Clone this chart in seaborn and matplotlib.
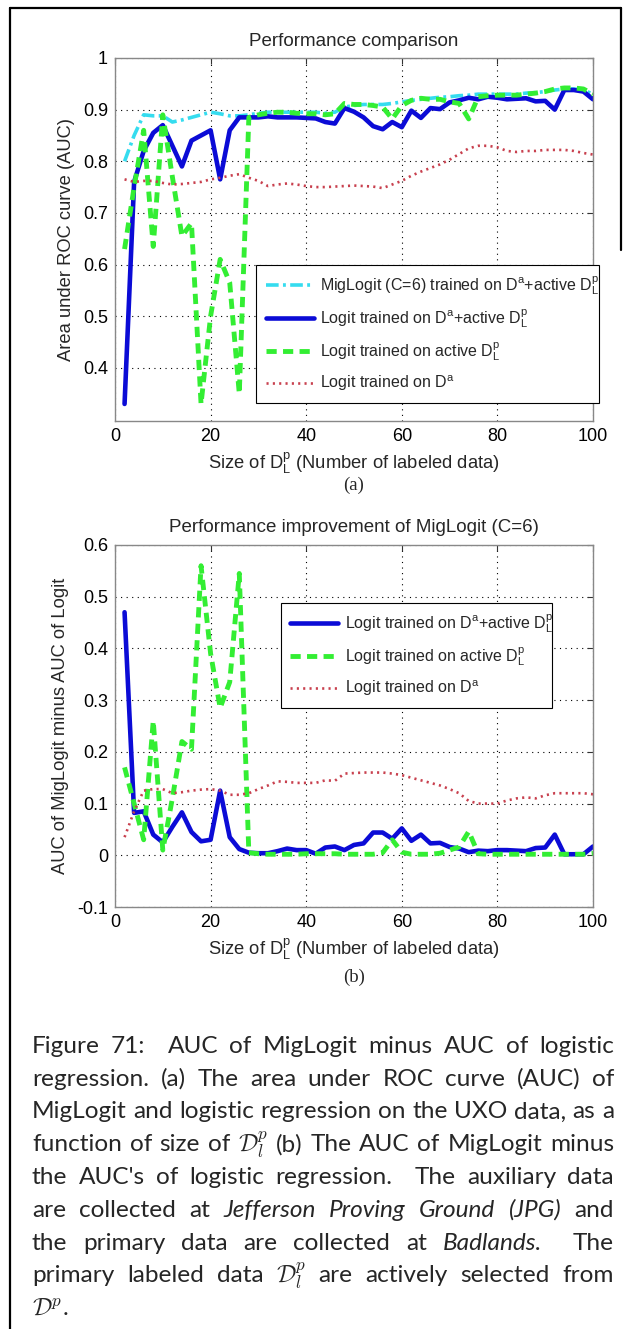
import matplotlib
matplotlib.use('Agg')
import matplotlib.pyplot as plt
import seaborn as sns
from matplotlib.ticker import FuncFormatter
from matplotlib.lines import Line2D

# x axis: size of labeled primary set
sizes = list(range(2, 101, 2))

# (a) AUC curves
auc_mig = [0.80, 0.85, 0.89, 0.888, 0.888, 0.876, 0.88, 0.885, 0.89, 0.895,
           0.892, 0.888, 0.888, 0.89, 0.893, 0.895, 0.895, 0.895, 0.895, 0.895,
           0.895, 0.893, 0.895, 0.905, 0.908, 0.91, 0.91, 0.91, 0.912, 0.915,
           0.918, 0.92, 0.922, 0.924, 0.925, 0.927, 0.928, 0.93, 0.93, 0.93,
           0.93, 0.93, 0.932, 0.933, 0.935, 0.938, 0.94, 0.94, 0.938, 0.93]
auc_logit_both = [0.33, 0.76, 0.82, 0.855, 0.87, 0.83, 0.79, 0.84, 0.85, 0.86,
                  0.765, 0.86, 0.885, 0.885, 0.885, 0.887, 0.885, 0.885, 0.885, 0.884,
                  0.883, 0.876, 0.873, 0.903, 0.896, 0.885, 0.868, 0.862, 0.876, 0.866,
                  0.898, 0.884, 0.903, 0.901, 0.914, 0.918, 0.923, 0.92, 0.925, 0.923,
                  0.92, 0.921, 0.922, 0.916, 0.917, 0.9, 0.938, 0.938, 0.935, 0.92]
auc_logit_active = [0.63, 0.75, 0.86, 0.635, 0.89, 0.77, 0.655, 0.68, 0.33, 0.50,
                    0.61, 0.565, 0.35, 0.885, 0.89, 0.893, 0.895, 0.895, 0.893, 0.892,
                    0.892, 0.89, 0.892, 0.912, 0.91, 0.91, 0.908, 0.905, 0.882, 0.908,
                    0.918, 0.922, 0.92, 0.92, 0.915, 0.912, 0.882, 0.925, 0.927, 0.928,
                    0.928, 0.928, 0.93, 0.932, 0.935, 0.94, 0.942, 0.942, 0.94, 0.93]
auc_logit_aux = [0.765, 0.76, 0.762, 0.762, 0.758, 0.755, 0.756, 0.758, 0.76, 0.765,
                 0.768, 0.772, 0.775, 0.768, 0.762, 0.752, 0.755, 0.757, 0.755, 0.752,
                 0.75, 0.75, 0.751, 0.752, 0.753, 0.752, 0.751, 0.748, 0.755, 0.762,
                 0.772, 0.78, 0.787, 0.794, 0.803, 0.814, 0.825, 0.83, 0.83, 0.827,
                 0.82, 0.818, 0.82, 0.82, 0.822, 0.822, 0.822, 0.82, 0.816, 0.813]

# (b) AUC of MigLogit minus AUC of Logit
gain_both = [0.47, 0.082, 0.085, 0.04, 0.025, 0.055, 0.083, 0.045, 0.027, 0.03,
             0.125, 0.035, 0.012, 0.005, 0.004, 0.004, 0.008, 0.013, 0.01, 0.01,
             0.003, 0.015, 0.017, 0.01, 0.02, 0.023, 0.044, 0.044, 0.032, 0.052,
             0.028, 0.04, 0.023, 0.024, 0.016, 0.013, 0.006, 0.009, 0.008, 0.01,
             0.01, 0.009, 0.008, 0.014, 0.015, 0.04, 0.002, 0.002, 0.002, 0.017]
gain_active = [0.17, 0.1, 0.03, 0.26, 0.01, 0.11, 0.22, 0.205, 0.56, 0.39,
               0.285, 0.335, 0.545, 0.005, 0.003, 0.002, 0.002, 0.002, 0.002, 0.003,
               0.003, 0.003, 0.003, 0.002, 0.002, 0.002, 0.002, 0.005, 0.03, 0.006,
               0.002, 0.002, 0.002, 0.004, 0.01, 0.016, 0.046, 0.003, 0.002, 0.002,
               0.002, 0.002, 0.002, 0.002, 0.002, 0.002, 0.002, 0.002, 0.002, 0.004]
gain_aux = [0.035, 0.085, 0.125, 0.128, 0.128, 0.12, 0.122, 0.125, 0.127, 0.128,
            0.125, 0.117, 0.117, 0.12, 0.128, 0.135, 0.143, 0.142, 0.14, 0.14,
            0.14, 0.145, 0.144, 0.158, 0.159, 0.16, 0.16, 0.16, 0.158, 0.155,
            0.15, 0.145, 0.14, 0.135, 0.128, 0.12, 0.105, 0.1, 0.1, 0.1,
            0.106, 0.11, 0.112, 0.11, 0.116, 0.12, 0.12, 0.12, 0.12, 0.118]

lbl_mig = r'MigLogit (C=6) trained on D$^{\rm a}$+active D$_{\rm L}^{\rm p}$'
lbl_both = r'Logit trained on D$^{\rm a}$+active D$_{\rm L}^{\rm p}$'
lbl_active = r'Logit trained on active D$_{\rm L}^{\rm p}$'
lbl_aux = r'Logit trained on D$^{\rm a}$'

caption = [
    'Figure 71:  AUC of MigLogit minus AUC of logistic',
    'regression. (a) The area under ROC curve (AUC) of',
    'MigLogit and logistic regression on the UXO data, as a',
    r'function of size of $\mathcal{D}_l^p$ (b) The AUC of MigLogit minus',
    "the AUC's of logistic regression.  The auxiliary data",
    'are collected at *Jefferson *Proving *Ground *(JPG) and',
    'the primary data are collected at *Badlands.  The',
    r'primary labeled data $\mathcal{D}_l^p$ are actively selected from',
    r'$\mathcal{D}^p$.',
]

sns.set_theme(style='white')
plt.rcParams['font.family'] = ['Liberation Sans', 'DejaVu Sans']
plt.rcParams['mathtext.fontset'] = 'custom'
plt.rcParams['mathtext.rm'] = 'Liberation Sans'
plt.rcParams['mathtext.it'] = 'Liberation Sans:italic'
plt.rcParams['axes.unicode_minus'] = False

W, H = 627, 1329
fig = plt.figure(figsize=(W / 100, H / 100), dpi=100)
fig.patch.set_facecolor('white')

styles = {
    'mig': dict(color='#35dcef', lw=2.6, linestyle=(0, (3.5, 1.2, 0.8, 1.2))),
    'both': dict(color='#0b0bd6', lw=3.3, linestyle='-'),
    'active': dict(color='#33ee33', lw=3.5, linestyle=(0, (2.1, 1.3))),
    'aux': dict(color='#c8404e', lw=1.9, linestyle=(0, (0.8, 1.6))),
}


def px_axes(left, top, right, bottom):
    return fig.add_axes([left / W, 1 - bottom / H, (right - left) / W, (bottom - top) / H])


def style_axes(ax, title, ylabel, ylim, yticks):
    ax.set_xlim(0, 100)
    ax.set_ylim(*ylim)
    ax.set_xticks(range(0, 101, 20))
    ax.set_yticks(yticks)
    ax.yaxis.set_major_formatter(FuncFormatter(lambda v, p: '%g' % round(v, 2)))
    ax.tick_params(direction='in', length=4, width=0.8, top=True, right=True,
                   labelsize=13, colors='#333333', labelcolor='black', pad=5)
    ax.grid(True, color='black', linestyle=(0, (1, 4)), lw=0.8)
    ax.set_axisbelow(True)
    for s in ax.spines.values():
        s.set_color('#888888')
        s.set_linewidth(1.0)
    ax.set_title(title, fontsize=13.5, pad=9)
    ax.set_ylabel(ylabel, fontsize=13.2, labelpad=6)
    ax.set_xlabel(r'Size of D$_{\rm L}^{\rm p}$ (Number of labeled data)', fontsize=13.2, labelpad=4)


# ---- panel (a)
ax1 = px_axes(115, 58, 593, 421)
sns.lineplot(x=sizes, y=auc_mig, ax=ax1, **styles['mig'])
sns.lineplot(x=sizes, y=auc_logit_both, ax=ax1, **styles['both'])
sns.lineplot(x=sizes, y=auc_logit_active, ax=ax1, **styles['active'])
sns.lineplot(x=sizes, y=auc_logit_aux, ax=ax1, **styles['aux'])
style_axes(ax1, 'Performance comparison', 'Area under ROC curve (AUC)',
           (0.297, 1.0), [0.4, 0.5, 0.6, 0.7, 0.8, 0.9, 1.0])
h1 = [Line2D([], [], **styles[k]) for k in ['mig', 'both', 'active', 'aux']]
ax1.legend(h1, [lbl_mig, lbl_both, lbl_active, lbl_aux], loc='lower left',
           bbox_to_anchor=(0.295, 0.05, 0.718, 0.37), mode='expand', borderaxespad=0,
           fontsize=11.5, handlelength=3.0, handletextpad=0.4, labelspacing=0.65,
           borderpad=0.6, fancybox=False, framealpha=1, edgecolor='black')
ax1.get_legend().get_frame().set_linewidth(0.8)

# ---- panel (b)
ax2 = px_axes(115, 545, 593, 907)
sns.lineplot(x=sizes, y=gain_both, ax=ax2, **styles['both'])
sns.lineplot(x=sizes, y=gain_active, ax=ax2, **styles['active'])
sns.lineplot(x=sizes, y=gain_aux, ax=ax2, **styles['aux'])
style_axes(ax2, 'Performance improvement of MigLogit (C=6)', 'AUC of MigLogit minus AUC of Logit',
           (-0.1, 0.6), [-0.1, 0, 0.1, 0.2, 0.3, 0.4, 0.5, 0.6])
h2 = [Line2D([], [], **styles[k]) for k in ['both', 'active', 'aux']]
ax2.legend(h2, [lbl_both, lbl_active, lbl_aux], loc='lower left',
           bbox_to_anchor=(0.347, 0.55, 0.567, 0.276), mode='expand', borderaxespad=0,
           fontsize=11.5, handlelength=3.0, handletextpad=0.4, labelspacing=0.65,
           borderpad=0.6, fancybox=False, framealpha=1, edgecolor='black')
ax2.get_legend().get_frame().set_linewidth(0.8)

fig.text(354 / W, 1 - 485 / H, '(a)', ha='center', va='center', fontsize=13.5, family='Liberation Serif')
fig.text(354 / W, 1 - 977 / H, '(b)', ha='center', va='center', fontsize=13.5, family='Liberation Serif')

# ---- page frame
fig.add_artist(Line2D([10 / W, 10 / W], [0, 1 - 8 / H], transform=fig.transFigure, color='black', lw=1.6))
fig.add_artist(Line2D([10 / W, 621 / W], [1 - 8 / H, 1 - 8 / H], transform=fig.transFigure, color='black', lw=1.6))
fig.add_artist(Line2D([621 / W, 621 / W], [1 - 8 / H, 1 - 250 / H], transform=fig.transFigure, color='black', lw=1.6))

# ---- caption, justified
renderer = fig.canvas.get_renderer()
cap_font = 'Lato'
probe = fig.text(0, 0, caption[2], fontsize=10, family=cap_font)
cap_size = 10 * 578 / probe.get_window_extent(renderer).width
probe.remove()

x0, x1 = 32, 614
for i, line in enumerate(caption):
    y = 1 - (1053 + 32.75 * i) / H
    words, gaps, pending = [], [], 0
    for tok in line.split(' '):
        if tok == '':
            pending += 1
            continue
        if words:
            gaps.append(1 + pending)
        pending = 0
        italic = tok.startswith('*')
        t = fig.text(0, y, tok.lstrip('*'), fontsize=cap_size, family=cap_font,
                     style='italic' if italic else 'normal', math_fontfamily='cm',
                     ha='left', va='baseline')
        words.append(t)
    widths = [t.get_window_extent(renderer).width for t in words]
    if i == len(caption) - 1 or len(words) == 1:
        unit = cap_size * 0.3
    else:
        unit = (x1 - x0 - sum(widths)) / sum(gaps)
    x = x0
    for j, t in enumerate(words):
        t.set_x(x / W)
        x += widths[j]
        if j < len(gaps):
            x += unit * gaps[j]

fig.savefig('out.png', dpi=100, facecolor='white')
